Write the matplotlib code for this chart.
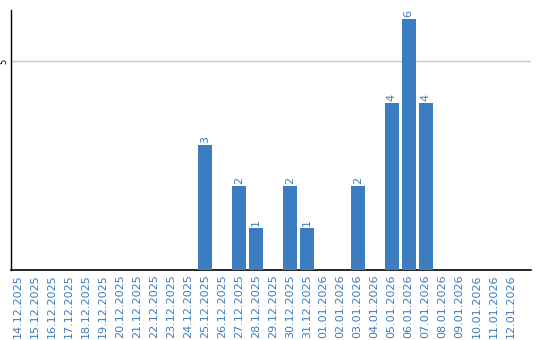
import datetime

import matplotlib
matplotlib.use('Agg')
import matplotlib.pyplot as plt

start = datetime.date(2025, 12, 14)
dates = [(start + datetime.timedelta(days=i)).strftime('%d.%m.%Y') for i in range(30)]
counts = [0, 0, 0, 0, 0, 0, 0, 0, 0, 0, 0, 3, 0, 2, 1, 0, 2, 1, 0, 0, 2, 0, 4, 6, 4, 0, 0, 0, 0, 0]

bar_color = '#3b7dc0'
text_color = '#3b7dc0'

fig = plt.figure(figsize=(5.4, 3.4), dpi=100)
ax = fig.add_axes([11 / 540, 70 / 340, 520 / 540, 260 / 340])

x = list(range(len(dates)))
ax.bar(x, counts, width=0.82, color=bar_color, zorder=3)

# value labels above non-empty bars
for xi, c in zip(x, counts):
    if c:
        ax.text(xi, c + 0.05, str(c), rotation=90, ha='center', va='bottom',
                fontsize=8, color=text_color)

ax.set_xlim(-0.41, 30.2)
ax.set_ylim(0, 6.22)
ax.set_yticks([5])
ax.set_yticklabels(['5'], rotation=90, ha='center', va='center', fontsize=6, color='black')
ax.set_xticks(x)
ax.set_xticklabels(dates, rotation=90, fontsize=8, color=text_color)
ax.tick_params(axis='y', length=0, pad=5)
ax.tick_params(axis='x', length=0, pad=3)
ax.grid(axis='y', color='#c8c8c8', linewidth=1, zorder=0)

for side in ['top', 'right']:
    ax.spines[side].set_visible(False)
ax.spines['left'].set_color('black')
ax.spines['bottom'].set_color('black')
ax.spines['left'].set_linewidth(1)
ax.spines['bottom'].set_linewidth(1.2)

fig.savefig('out.png', dpi=100)
